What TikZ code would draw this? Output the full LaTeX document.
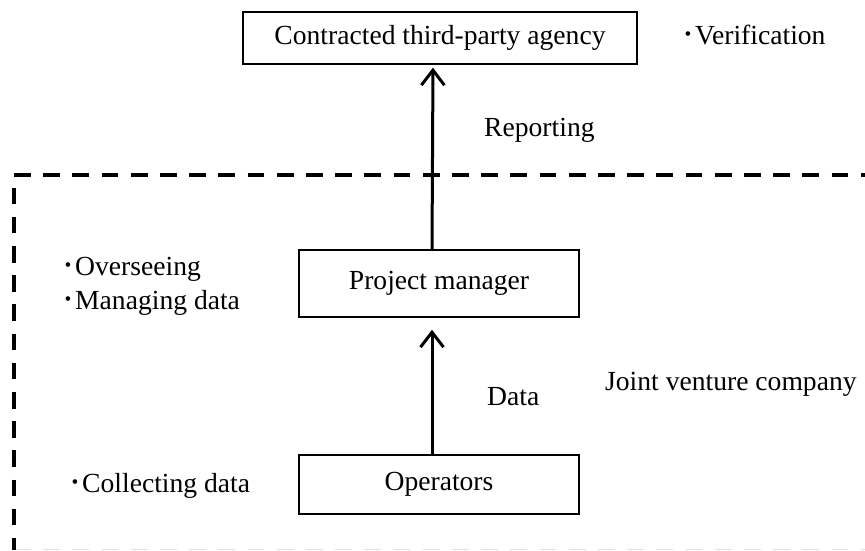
\documentclass[tikz,border=0pt]{standalone}
\usepackage{fontspec}
\setmainfont{Liberation Serif}
\newfontfamily\cjk{Noto Sans CJK JP}
\usetikzlibrary{arrows.meta}
\newcommand{\bdot}{\llap{{\cjk ･}}}
\begin{document}
\begin{tikzpicture}[x=1pt,y=-1pt,
  every node/.style={font=\fontsize{27.6}{33}\selectfont},
  box/.style={draw, line width=1.4pt, inner sep=0pt, align=center},
  lbl/.style={inner sep=0pt, anchor=base west},
  flow/.style={line width=3pt, -{Straight Barb[length=15pt, width=23pt]}},
  jvline/.style={line width=3.6pt, dash pattern=on 16.7pt off 12.5pt},
  jvfaint/.style={line width=1.5pt, draw=black!12, dash pattern=on 16.7pt off 12.5pt}]
\useasboundingbox (0,0) rectangle (865,551);

% boxes
\node[box, minimum width=394pt, minimum height=52pt] (agency) at (440,38) {Contracted third-party agency};
\node[box, minimum width=280pt, minimum height=67pt] (pm) at (439,283.5) {Project manager};
\node[box, minimum width=280pt, minimum height=59pt] (op) at (439,484.5) {Operators};

% boundary of joint venture company
\coordinate (tl) at (14,175);
\coordinate (tr) at (870,175);
\coordinate (bl) at (14,549.5);
\coordinate (br) at (870,549.5);
\draw[jvfaint] (bl) -- (br);
\draw[jvline] (tl) -- (tr);
\draw[jvline, dash phase=16.7pt] (tl) -- (bl);

% connectors
\draw[flow, shorten >=3pt] ([xshift=-7pt]pm.north) -- ([xshift=-7pt]agency.south);
\draw[flow, shorten >=12pt] ([xshift=-7pt]op.north) -- ([xshift=-7pt]pm.south);

% labels
\coordinate (vx) at (695,0);
\node[lbl] (verif) at (agency.base -| vx) {\bdot Verification};
\node[lbl] (reporting) at (484,136) {Reporting};
\node[lbl] (data) at (487,405) {Data};
\node[lbl] (jv) at (605,390) {Joint venture company};
\node[lbl] (overs) at (75,275) {\bdot Overseeing};
\node[lbl] (manag) at (75,309) {\bdot Managing data};
\node[lbl] (collect) at (82,492) {\bdot Collecting data};
\end{tikzpicture}
\end{document}
